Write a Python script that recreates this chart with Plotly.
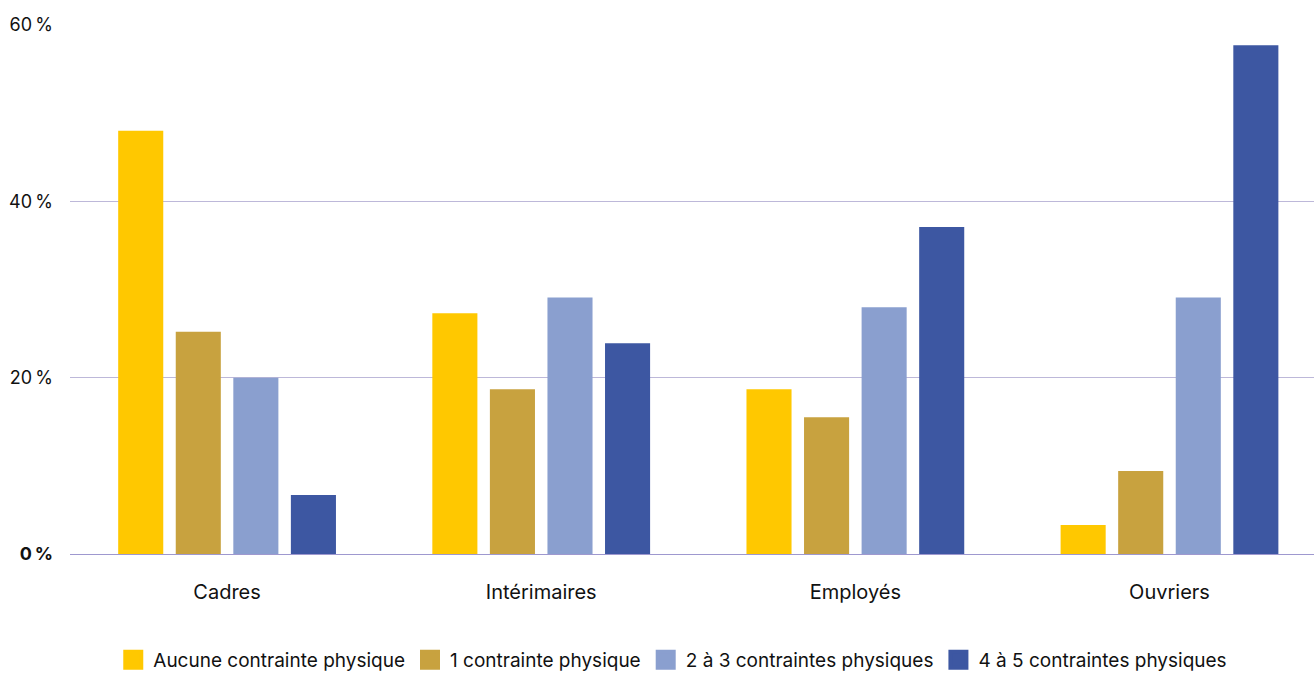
import plotly.graph_objects as go

categories = ["Cadres", "Intérimaires", "Employés", "Ouvriers"]
series_names = [
    "Aucune contrainte physique",
    "1 contrainte physique",
    "2 à 3 contraintes physiques",
    "4 à 5 contraintes physiques",
]
aucune = [48.0, 27.3, 18.7, 3.3]
une = [25.2, 18.7, 15.5, 9.4]
deux_trois = [20.0, 29.1, 28.0, 29.1]
quatre_cinq = [6.7, 23.9, 37.1, 57.7]
colors = ["#FFC800", "#C8A23F", "#8A9FCF", "#3D57A2"]

tick_vals = [0, 20, 40, 60]
tick_text = ["<b>0\u2009%</b>", "20\u2009%", "40\u2009%", "60\u2009%"]

font_family = "Inter, 'Open Sans', sans-serif"

fig = go.Figure()
for name, values, color in zip(series_names, [aucune, une, deux_trois, quatre_cinq], colors):
    fig.add_trace(go.Bar(
        name=name, x=categories, y=values, legendgroup=name, showlegend=False,
        marker=dict(color=color, line=dict(width=0)),
    ))

# Larger square swatches for the legend entries
for name, color in zip(series_names, colors):
    fig.add_trace(go.Scatter(
        name=name, x=[None], y=[None], mode="markers", legendgroup=name,
        marker=dict(symbol="square", size=16, color=color, line=dict(width=4, color=color)),
        hoverinfo="skip",
    ))

fig.update_layout(
    width=1314,
    height=675,
    margin=dict(l=70, r=0, t=25, b=121, autoexpand=False),
    paper_bgcolor="white",
    plot_bgcolor="white",
    barmode="group",
    bargap=0.267,
    bargroupgap=0.217,
    font=dict(family=font_family, size=17, color="#111111"),
    xaxis=dict(
        range=[-0.5, 3.46],
        showgrid=False,
        showline=False,
        ticks="",
        ticklabelstandoff=24,
        tickfont=dict(size=20),
    ),
    yaxis=dict(
        range=[0, 60],
        tickvals=tick_vals,
        ticktext=tick_text,
        showgrid=True,
        gridcolor="#BDB8D9",
        gridwidth=1,
        zeroline=True,
        zerolinecolor="#9E98CF",
        zerolinewidth=1,
        ticks="",
        ticklabelstandoff=16,
        tickfont=dict(size=18),
    ),
    legend=dict(
        orientation="h",
        xref="container",
        x=0.512,
        xanchor="center",
        yref="paper",
        y=-0.2,
        yanchor="middle",
        font=dict(size=19),
        itemwidth=30,
        traceorder="normal",
    ),
)

fig.write_html("out.html")
